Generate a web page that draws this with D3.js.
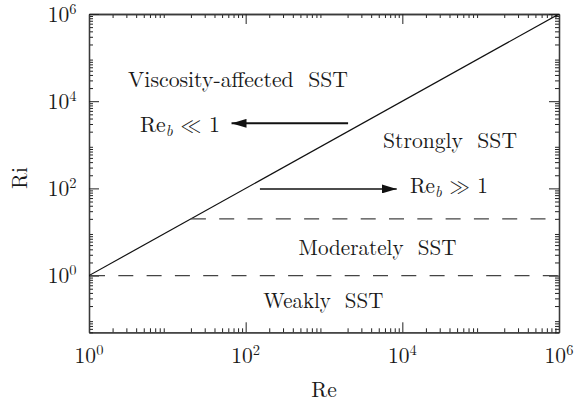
<!DOCTYPE html>
<html>
<head>
<meta charset="utf-8">
<script src="https://cdn.jsdelivr.net/npm/d3@7"></script>
<style>
  html, body { margin: 0; padding: 0; background: #fff; }
  svg { display: block; }
  svg text { font-family: "Latin Modern Roman", "Liberation Serif", "DejaVu Serif", serif; fill: #1a1a1a; white-space: pre; }
</style>
</head>
<body>
<script>
// Regime diagram of stably stratified turbulence in the (Re, Ri) plane.

// Axis extents and labelled decades
const reDomain = [1, 1e6];
const riDomain = [0.05, 1e6];
const reMajorTicks = [1, 1e2, 1e4, 1e6];
const riMajorTicks = [1, 1e2, 1e4, 1e6];
const tickExponents = ["0", "2", "4", "6"];

// Boundary Re_b = Re / Ri = 1 (solid diagonal)
const boundaryRe = [1, 1e6];
const boundaryRi = [1, 1e6];

// Horizontal regime boundaries (dashed)
const levelRi = [1, 20];
const levelReStart = [1, 20];
const levelReEnd = [1e6, 1e6];

// Arrows pointing away from the Re_b = 1 boundary
const arrowRi = [3100, 97];
const arrowTailRe = [2030, 152];
const arrowHeadRe = [66, 8480];

// Region names and their anchors (centre, baseline) in data coordinates
const regionNames = ["Viscosity-affected  SST", "Strongly  SST", "Moderately  SST", "Weakly  SST"];
const regionRe = [80, 40600, 4820, 980];
const regionRi = [21500, 844, 2.96, 0.1776];

// Buoyancy Reynolds number annotations
const rebRelations = ["\u226A", "\u226B"];
const rebRe = [14.5, 39400];
const rebRi = [1995, 77];

const W = 577, H = 407;
const plot = { left: 89, right: 559, top: 14, bottom: 332.3 };
const fontFamily = '"Latin Modern Roman", "Liberation Serif", "DejaVu Serif", serif';
const mathFamily = '"Latin Modern Math", "Latin Modern Roman", "Liberation Serif", "DejaVu Serif", serif';
const fontSize = 21.5;
const regionWidths = [220, 134, 158, 120];
const rebWidths = [80, 78];

const svg = d3.select("body").append("svg")
  .attr("width", W).attr("height", H)
  .attr("font-family", fontFamily);

const x = d3.scaleLog().domain(reDomain).range([plot.left, plot.right]);
const y = d3.scaleLog().domain(riDomain).range([plot.bottom, plot.top]);

// Minor ticks: 2..9 times each power of ten inside the domain
function minorTicks(domain) {
  const out = [];
  const k0 = Math.floor(Math.log10(domain[0]));
  const k1 = Math.ceil(Math.log10(domain[1]));
  for (let k = k0; k < k1; k++) {
    for (let m = 2; m <= 9; m++) {
      const v = m * Math.pow(10, k);
      if (v >= domain[0] * 0.999 && v <= domain[1]) out.push(v);
    }
  }
  return out;
}
const reMinor = minorTicks(reDomain);
const riMinor = minorTicks(riDomain);

const majorLen = 10, minorLen = 4;
const axisColor = "#3a3a3a";

function drawAxis(gen, transform, values, len) {
  const g = svg.append("g")
    .attr("transform", transform)
    .call(gen.tickValues(values).tickSize(-len).tickSizeOuter(0).tickFormat(""));
  g.attr("font-family", null);
  g.select(".domain").attr("stroke", axisColor).attr("stroke-width", 1.3);
  g.selectAll(".tick line").attr("stroke", "#222").attr("stroke-width", 1);
  return g;
}

// Inward ticks on all four sides, mirrored top/right
[[reMinor, minorLen], [reMajorTicks, majorLen]].forEach(([vals, len]) => {
  drawAxis(d3.axisBottom(x), `translate(0,${plot.bottom})`, vals, len);
  drawAxis(d3.axisTop(x), `translate(0,${plot.top})`, vals, len);
});
[[riMinor, minorLen], [riMajorTicks, majorLen]].forEach(([vals, len]) => {
  drawAxis(d3.axisLeft(y), `translate(${plot.left},0)`, vals, len);
  drawAxis(d3.axisRight(y), `translate(${plot.right},0)`, vals, len);
});

function serifText(sel) {
  return sel.append("text")
    .attr("font-family", fontFamily)
    .attr("font-size", fontSize);
}

// Tick labels 10^n
const supSize = 14.5;
const xLabels = svg.append("g");
reMajorTicks.forEach((v, i) => {
  const t = serifText(xLabels)
    .attr("x", x(v)).attr("y", plot.bottom + 30.4)
    .attr("text-anchor", "middle");
  t.append("tspan").text("10");
  t.append("tspan").attr("dy", -8).attr("font-size", supSize).text(tickExponents[i]);
});
const yLabels = svg.append("g");
riMajorTicks.forEach((v, i) => {
  const t = serifText(yLabels)
    .attr("x", 76.5).attr("y", y(v) + 7.8)
    .attr("text-anchor", "end");
  t.append("tspan").text("10");
  t.append("tspan").attr("dy", -8).attr("font-size", supSize).text(tickExponents[i]);
});

// Axis titles
serifText(svg)
  .attr("x", (plot.left + plot.right) / 2).attr("y", 396.7)
  .attr("text-anchor", "middle")
  .text("Re");
serifText(svg)
  .attr("transform", `translate(26.5,178) rotate(-90)`)
  .attr("text-anchor", "middle")
  .text("Ri");

// Clip everything drawn in data space to the plotting area
svg.append("clipPath").attr("id", "plot-area")
  .append("rect")
  .attr("x", plot.left).attr("y", plot.top)
  .attr("width", plot.right - plot.left).attr("height", plot.bottom - plot.top);
const area = svg.append("g").attr("clip-path", "url(#plot-area)");

// Re_b = 1 diagonal
const line = d3.line().x(d => x(d[0])).y(d => y(d[1]));
area.append("path")
  .datum(boundaryRe.map((r, i) => [r, boundaryRi[i]]))
  .attr("d", line)
  .attr("fill", "none").attr("stroke", "#111").attr("stroke-width", 1.2);

// Dashed horizontal regime boundaries
const dashOffsets = [27.3, 0];
area.selectAll(".level")
  .data(levelRi.map((ri, i) => ({ ri, r0: levelReStart[i], r1: levelReEnd[i], off: dashOffsets[i] })))
  .join("path")
  .attr("class", "level")
  .attr("d", d => line([[d.r0, d.ri], [d.r1, d.ri]]))
  .attr("fill", "none").attr("stroke", "#444").attr("stroke-width", 1.3)
  .attr("stroke-dasharray", "15 13.3")
  .attr("stroke-dashoffset", d => d.off);

// Arrows
const defs = svg.append("defs");
defs.append("marker")
  .attr("id", "head")
  .attr("viewBox", "0 0 15 9")
  .attr("refX", 15).attr("refY", 4.5)
  .attr("markerWidth", 15).attr("markerHeight", 9)
  .attr("markerUnits", "userSpaceOnUse")
  .attr("orient", "auto")
  .append("path").attr("d", "M0,0 L15,4.5 L0,9 Z").attr("fill", "#111");

const arrowWidths = [2, 1.5];
area.selectAll(".arrow")
  .data(arrowRi.map((ri, i) => ({ ri, a: arrowTailRe[i], b: arrowHeadRe[i], w: arrowWidths[i] })))
  .join("path")
  .attr("class", "arrow")
  .attr("d", d => line([[d.a, d.ri], [d.b, d.ri]]))
  .attr("fill", "none").attr("stroke", "#111")
  .attr("stroke-width", d => d.w)
  .attr("marker-end", "url(#head)");

// Region names
const regionGroup = svg.append("g");
regionNames.forEach((name, i) => {
  serifText(regionGroup)
    .attr("x", x(regionRe[i]) - regionWidths[i] / 2)
    .attr("y", y(regionRi[i]))
    .attr("textLength", regionWidths[i])
    .attr("lengthAdjust", "spacingAndGlyphs")
    .text(name);
});

// Re_b annotations
rebRelations.forEach((rel, i) => {
  const t = serifText(svg)
    .attr("x", x(rebRe[i]) - rebWidths[i] / 2)
    .attr("y", y(rebRi[i]))
    .attr("textLength", rebWidths[i])
    .attr("lengthAdjust", "spacingAndGlyphs");
  t.append("tspan").text("Re");
  t.append("tspan").attr("dy", 4).attr("font-size", 15).attr("font-style", "italic").text("b");
  t.append("tspan").attr("dy", -4).text(" ");
  t.append("tspan").attr("font-family", mathFamily).text(rel);
  t.append("tspan").text(" 1");
});
</script>
</body>
</html>
